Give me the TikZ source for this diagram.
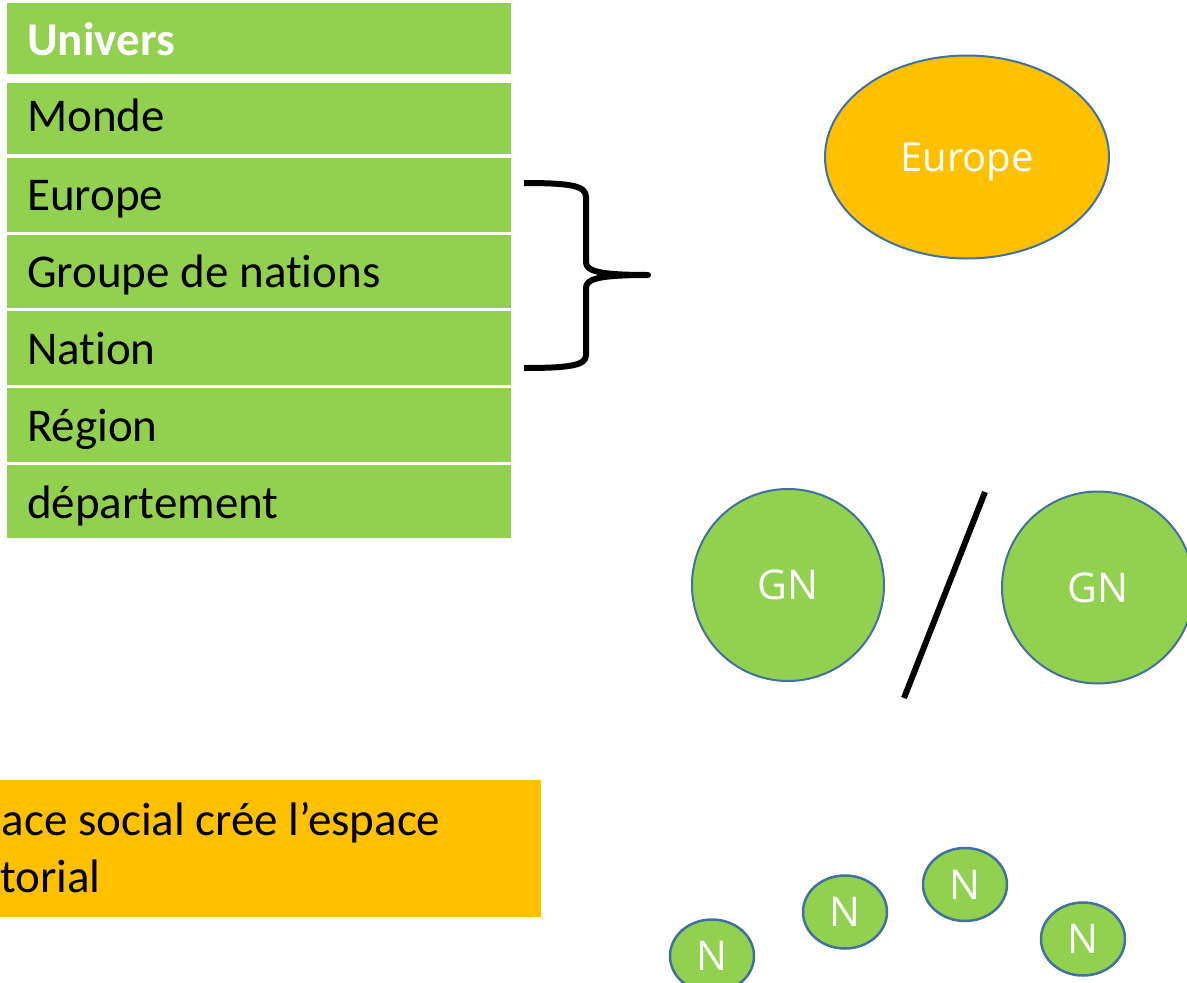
\documentclass[tikz,border=0pt]{standalone}
\usepackage{fontspec}
\setmainfont{Carlito}[Ligatures=NoCommon]
\newfontfamily\shapefont{Open Sans}
\usetikzlibrary{shapes.geometric}
\definecolor{lgreen}{HTML}{92D050}
\definecolor{gold}{HTML}{FFC000}
\definecolor{edgeblue}{HTML}{41719C}
\begin{document}
\begin{tikzpicture}[x=1pt,y=-1pt,
  rowbox/.style={fill=lgreen},
  rowtext/.style={anchor=base west, inner sep=0pt, font=\fontsize{47}{57}\selectfont},
  bigell/.style={ellipse, fill=gold, draw=edgeblue, line width=2pt, text=white, inner sep=0pt,
     font=\shapefont\fontsize{40}{48}\selectfont, text height=28.6pt, text depth=0pt},
  gncirc/.style={circle, fill=lgreen, draw=edgeblue, line width=2pt, text=white, inner sep=0pt,
     minimum size=192pt, font=\shapefont\fontsize{41}{49}\selectfont, text height=29.3pt, text depth=0pt},
  nell/.style={ellipse, fill=lgreen, draw=edgeblue, line width=2.5pt, text=white, inner sep=0pt,
     minimum width=84pt, minimum height=73pt, font=\shapefont\fontsize{41}{49}\selectfont, text height=29.3pt, text depth=0pt},
  bracestroke/.style={line width=6pt, line join=round},
  slashstroke/.style={line width=6pt},
  notetext/.style={anchor=base west, inner sep=0pt, font=\fontsize{47}{57}\selectfont}
]
\useasboundingbox (0,0) rectangle (1187,983);
\clip (0,0) rectangle (1187,983);

% table rows
\path[rowbox] (7,3) rectangle (511,74);
\path[rowbox] (7,82.5) rectangle (511,154);
\path[rowbox] (7,157.5) rectangle (511,231.5);
\path[rowbox] (7,234.5) rectangle (511,307.7);
\path[rowbox] (7,310.7) rectangle (511,385);
\path[rowbox] (7,388) rectangle (511,461.5);
\path[rowbox] (7,464.5) rectangle (511,538);

\node[rowtext, text=white, font=\bfseries\fontsize{47}{57}\selectfont] (univers) at (27,55.5) {Univers};
\node[rowtext] (monde) at (27,131.7) {Monde};
\node[rowtext] (europe) at (27,210.5) {Europe};
\node[rowtext] (groupe) at (27,287) {Groupe de nations};
\node[rowtext] (nation) at (27,364) {Nation};
\node[rowtext] (region) at (27,441.5) {Région};
\node[rowtext] (dept) at (27,518.5) {département};

% brace
\draw[bracestroke] (524,183) .. controls (572,183) and (586,186) .. (586,197)
  -- (586,262) .. controls (586,271) and (598,275) .. (648,275)
  .. controls (598,275) and (586,279) .. (586,288)
  -- (586,355) .. controls (586,365) and (572,368) .. (524,368);

% Europe ellipse
\node[bigell, minimum width=284pt, minimum height=203pt] (eu) at (967,157) {Europe};

% GN circles and slash
\node[gncirc] (gn1) at (788,585) {GN};
\node[gncirc] (gn2) at (1098,587.5) {GN};
\coordinate (s1) at (985,492);
\coordinate (s2) at (904,698);
\draw[slashstroke] (s1) -- (s2);

% note box
\path[fill=gold] (-120,780) rectangle (541,917);
\node[notetext] (note1) at (1.5,835) {ace social crée l’espace};
\node[notetext] (note2) at (0,892) {torial};

% N ellipses
\node[nell] (n1) at (712,956) {N};
\node[nell] (n2) at (845,912) {N};
\node[nell] (n3) at (965,884.5) {N};
\node[nell] (n4) at (1083,939) {N};
\end{tikzpicture}
\end{document}
